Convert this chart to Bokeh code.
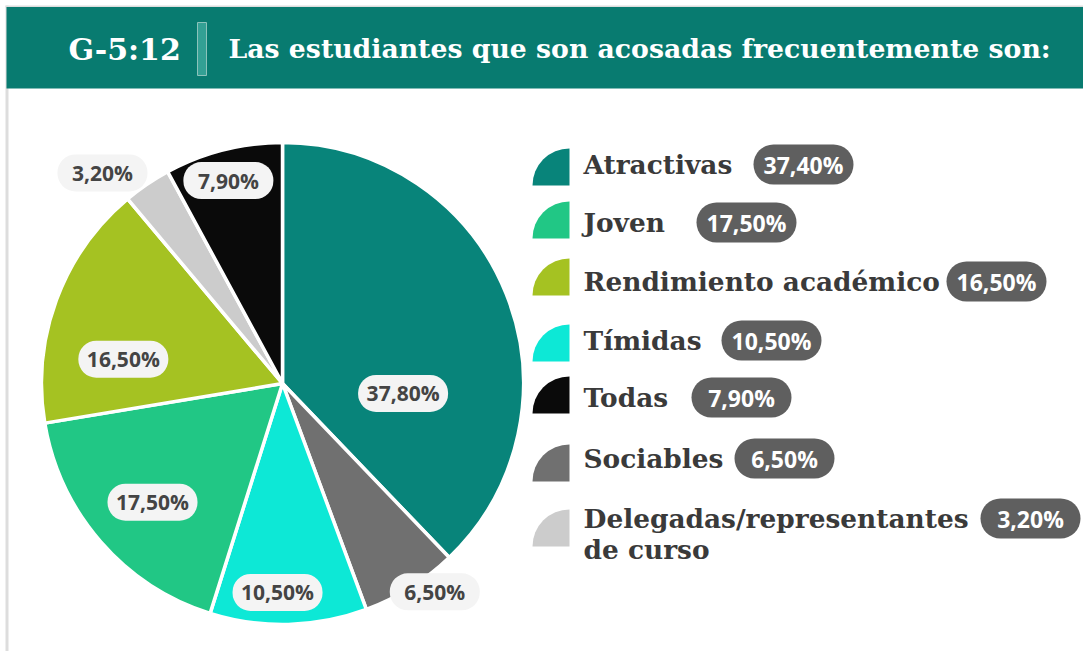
import math
from bokeh.plotting import figure
from bokeh.models import ColumnDataSource, Range1d
from bokeh.core.properties import value
from bokeh.embed import file_html
from bokeh.resources import INLINE

# ---------------- data ----------------
chart_code = "G-5:12"
chart_title = "Las estudiantes que son acosadas frecuentemente son:"

# pie slices, clockwise from 12 o'clock
slice_names = ["Atractivas", "Sociables", "Tímidas", "Joven",
               "Rendimiento académico", "Delegadas/representantes de curso", "Todas"]
slice_values = [37.8, 6.5, 10.5, 17.5, 16.5, 3.2, 7.9]

# legend (its own order and values as printed)
legend_names = ["Atractivas", "Joven", "Rendimiento académico", "Tímidas",
                "Todas", "Sociables", "Delegadas/representantes de curso"]
legend_values = [37.4, 17.5, 16.5, 10.5, 7.9, 6.5, 3.2]
legend_display = {"Delegadas/representantes de curso": "Delegadas/representantes\nde curso"}

colors = {
    "Atractivas": "#08847a",
    "Sociables": "#707070",
    "Tímidas": "#0de8d6",
    "Joven": "#21c785",
    "Rendimiento académico": "#a5c222",
    "Delegadas/representantes de curso": "#cccccc",
    "Todas": "#0a0a0a",
}

def fmt(v):
    return f"{v:.2f}".replace(".", ",") + "%"

# ---------------- layout ----------------
W, H = 1083, 651
def Y(py):
    return H - py

CX, CY, R = 282, Y(383), 241
label_shift_deg = [26.6, -4.1, 2.8, -1.4, -11.6, -6.3, -0.7]
label_dist = [121, 258, 209, 176, 161, 277, 210]
PILL_W, PILL_H = 90, 37

LEG_SW_X = 569
LEG_SW = 37
LEG_TEXT_X = 583
swatch_bottom = [185, 238, 295, 361, 413, 481, 546]
row_y = [164, 222, 281, 340, 397, 458, 518]
badge_cx = [803, 746, 996, 771, 741, 784, 1030]
BADGE_W, BADGE_H = 100, 40

SERIF = value("DejaVu Serif")
SANS = value("Open Sans")

p = figure(width=W, height=H, x_range=Range1d(0, W), y_range=Range1d(0, H),
           output_backend="svg", toolbar_location=None, min_border=0,
           x_axis_location=None, y_axis_location=None,
           background_fill_color="white", border_fill_color="white")
p.outline_line_color = None
p.xgrid.visible = False
p.ygrid.visible = False

# card border (top + left)
p.quad(left=5, right=W, bottom=Y(7), top=Y(5), fill_color="#dddddd", line_color=None)
p.quad(left=5, right=8, bottom=Y(651), top=Y(5), fill_color="#dddddd", line_color=None)
# header band
p.quad(left=6, right=W, bottom=Y(88), top=Y(6.5), fill_color="#087b70", line_color=None)
# divider in header
p.quad(left=197, right=206, bottom=Y(75), top=Y(22), fill_color="#33a094",
       line_color="#8cc3bb", line_width=1)

p.text(x=[68], y=[Y(49)], text=[chart_code], text_font=SERIF, text_font_style="bold",
       text_font_size="30px", text_color="white", text_baseline="middle", text_align="left")
p.text(x=[228], y=[Y(48)], text=[chart_title], text_font=SERIF, text_font_style="bold",
       text_font_size="26.7px", text_color="white", text_baseline="middle", text_align="left")

# pie
total = sum(slice_values)
starts, ends, mids, cum = [], [], [], 0.0
for v in slice_values:
    a0 = math.pi / 2 - 2 * math.pi * cum / total
    mids.append((cum + v / 2) / total * 360.0)
    cum += v
    a1 = math.pi / 2 - 2 * math.pi * cum / total
    starts.append(a1)
    ends.append(a0)
src = ColumnDataSource(dict(start=starts, end=ends,
                            color=[colors[n] for n in slice_names]))
p.wedge(x=CX, y=CY, radius=R, start_angle="start", end_angle="end",
        fill_color="color", line_color="white", line_width=3.5, source=src)

lx, ly = [], []
for i, m in enumerate(mids):
    th = math.radians(m + label_shift_deg[i])
    lx.append(CX + label_dist[i] * math.sin(th))
    ly.append(CY + label_dist[i] * math.cos(th))
lab = ColumnDataSource(dict(
    x=lx, y=ly, text=[fmt(v) for v in slice_values],
    l=[x - PILL_W / 2 for x in lx], r=[x + PILL_W / 2 for x in lx],
    b=[y - PILL_H / 2 for y in ly], t=[y + PILL_H / 2 for y in ly]))
p.quad(left="l", right="r", bottom="b", top="t", fill_color="#f4f4f4", line_color=None,
       border_radius=18, source=lab)
p.text(x="x", y="y", text="text", text_align="center", text_baseline="middle",
       text_font=SANS, text_font_style="bold", text_font_size="21px",
       text_color="#444444", source=lab)

# legend
sw = ColumnDataSource(dict(x=[LEG_SW_X] * len(legend_names),
                           y=[Y(b) for b in swatch_bottom],
                           color=[colors[n] for n in legend_names]))
p.wedge(x="x", y="y", radius=LEG_SW, start_angle=math.pi / 2, end_angle=math.pi,
        fill_color="color", line_color=None, source=sw)

for i, n in enumerate(legend_names):
    lines = legend_display.get(n, n).split("\n")
    for j, line in enumerate(lines):
        p.text(x=[LEG_TEXT_X], y=[Y(row_y[i] + 31 * j)], text=[line], text_font=SERIF,
               text_font_style="bold", text_font_size="26.4px", text_color="#3a3a3a",
               text_baseline="middle", text_align="left")

bd = ColumnDataSource(dict(
    x=badge_cx, y=[Y(r) for r in row_y], text=[fmt(v) for v in legend_values],
    l=[x - BADGE_W / 2 for x in badge_cx], r=[x + BADGE_W / 2 for x in badge_cx],
    b=[Y(r) - BADGE_H / 2 for r in row_y], t=[Y(r) + BADGE_H / 2 for r in row_y]))
p.quad(left="l", right="r", bottom="b", top="t", fill_color="#5f5f5f", line_color=None,
       border_radius=20, source=bd)
p.text(x="x", y="y", text="text", text_align="center", text_baseline="middle",
       text_font=SANS, text_font_style="bold", text_font_size="23px",
       text_color="white", source=bd)

open("out.html", "w").write(file_html(p, INLINE))
